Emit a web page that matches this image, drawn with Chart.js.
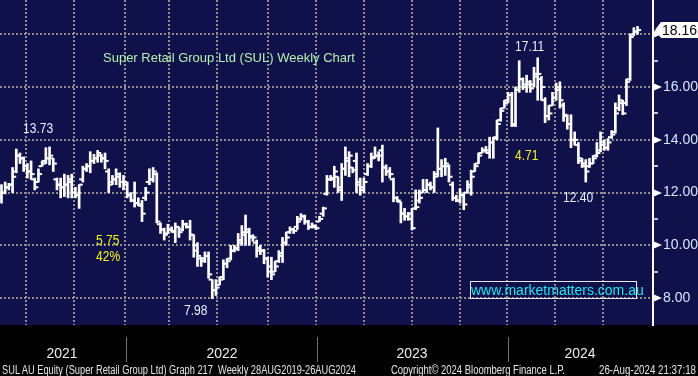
<!DOCTYPE html>
<html>
<head>
<meta charset="utf-8">
<script src="https://cdn.jsdelivr.net/npm/chart.js@4.4.0/dist/chart.umd.min.js"></script>
<style>
  html, body { margin: 0; padding: 0; background: #000; }
  #wrap { position: relative; width: 698px; height: 376px; overflow: hidden; }
  #wrap canvas { position: absolute; left: 0; top: 0; }
  .lbl { position: absolute; white-space: nowrap; font-family: "Liberation Sans", Arial, sans-serif; line-height: 1; transform-origin: 0 0; }
  .num { color: #e2efff; font-size: 14px; transform: scaleX(0.86); }
  .yel { color: #f2f21e; font-size: 14px; transform: scaleX(0.86); }
  .title { color: #b2f2ae; font-size: 13px; }
  .foot { color: #e6e6e6; font-size: 12px; top: 364px; }
  #mm { position: absolute; left: 470px; top: 281px; width: 165px; height: 16px; border: 1px solid #e8e8e8;
        color: #1ee6f2; font-family: "Liberation Sans", Arial, sans-serif; font-size: 14px; line-height: 16px; text-align: center; }
</style>
</head>
<body>
<div id="wrap">
  <canvas id="sul_chart" width="698" height="376"></canvas>
  <div class="lbl title" style="left:103px; top:51px;">Super Retail Group Ltd (SUL) Weekly Chart</div>
  <div class="lbl num" style="left:23px; top:121px;">13.73</div>
  <div class="lbl yel" style="left:96px; top:233px;">5.75</div>
  <div class="lbl yel" style="left:96px; top:249px;">42%</div>
  <div class="lbl num" style="left:184px; top:303px;">7.98</div>
  <div class="lbl num" style="left:515px; top:39px;">17.11</div>
  <div class="lbl yel" style="left:515px; top:148px;">4.71</div>
  <div class="lbl num" style="left:563px; top:190px;">12.40</div>
  <div id="mm">www.marketmatters.com.au</div>
  <div class="lbl foot" data-w="354" style="left:2px;">SUL AU Equity (Super Retail Group Ltd) Graph 217&nbsp; Weekly 28AUG2019-26AUG2024</div>
  <div class="lbl foot" data-w="174" style="left:391px;">Copyright© 2024 Bloomberg Finance L.P.</div>
  <div class="lbl foot" data-w="97" style="left:599px;">26-Aug-2024 21:37:18</div>
</div>
<script>
// weekly OHLC, one bar per week, oldest first
var opens = [11.8,12.0,12.2,12.3,12.8,13.4,13.3,13.0,12.8,12.5,12.4,13.0,13.2,13.3,13.3,12.5,12.3,12.2,12.3,12.4,
  12.0,11.9,12.5,12.9,13.0,13.2,13.3,13.4,13.3,12.8,12.4,12.5,12.6,12.4,12.3,11.9,11.7,11.6,11.5,11.8,
  12.4,12.5,12.7,10.8,10.6,10.45,10.6,10.5,10.7,10.6,10.8,10.7,10.4,10.0,9.5,9.4,9.6,8.7,8.3,8.5,
  8.8,9.3,9.5,9.8,9.9,10.1,10.4,10.5,10.35,10.1,9.9,9.8,9.5,9.2,9.0,9.4,9.6,10.1,10.5,10.6,
  10.7,11.0,11.1,10.9,10.7,10.7,10.9,11.2,11.95,12.5,12.5,12.6,12.2,12.9,13.2,12.95,13.2,12.4,12.1,12.7,
  13.0,13.35,13.4,13.6,12.95,12.8,12.5,11.8,11.65,11.2,11.1,11.2,11.4,11.7,12.0,12.1,12.3,12.2,12.7,12.9,
  13.0,13.0,12.3,11.8,11.7,11.9,12.0,12.2,12.8,13.1,13.5,13.6,13.5,13.9,14.1,14.75,15.2,15.5,15.7,14.6,
  15.9,16.3,16.0,16.1,16.1,16.5,16.3,15.5,14.9,15.3,15.6,16.0,15.3,14.9,14.6,14.0,13.8,13.2,13.0,13.0,
  13.1,13.4,13.6,13.8,13.7,14.1,14.3,15.2,15.4,15.4,16.3,18.0,18.1];
var highs = [12.3,12.4,12.35,12.95,13.65,13.5,13.35,13.1,13.2,12.55,12.9,13.2,13.7,13.73,13.3,12.55,12.55,12.7,12.65,12.7,
  12.2,12.3,13.0,13.1,13.55,13.45,13.6,13.45,13.5,12.9,12.65,12.9,12.75,12.65,12.4,12.0,12.4,11.8,11.7,12.2,
  12.9,12.95,12.75,10.85,10.65,10.8,10.7,10.85,10.7,10.95,10.85,10.95,10.4,10.1,9.55,9.75,9.75,8.7,8.7,8.8,
  9.45,9.5,10.0,10.0,10.45,10.75,11.15,10.65,10.4,10.2,10.0,9.85,9.55,9.55,9.4,9.8,10.3,10.5,10.7,10.65,
  11.1,11.2,11.15,10.95,10.85,10.75,11.1,11.45,12.65,12.65,13.0,12.6,13.1,13.73,13.55,12.95,13.5,12.55,12.55,13.1,
  13.5,13.73,13.55,13.8,13.05,12.95,12.55,11.85,11.65,11.4,11.25,11.4,12.1,12.1,12.5,12.5,12.4,12.8,14.45,13.25,
  13.3,13.05,12.4,11.9,12.15,12.0,12.45,12.85,13.1,13.5,13.7,13.75,14.1,14.1,14.75,15.2,15.5,15.8,15.8,16.0,
  17.0,16.35,16.45,16.25,16.75,17.11,16.4,15.6,15.3,15.8,16.15,16.2,15.4,14.95,14.95,14.3,13.9,13.3,13.25,13.3,
  13.4,13.9,14.3,14.0,14.05,14.35,15.4,15.7,15.5,16.3,18.0,18.25,18.3];
var lows = [11.6,11.95,12.1,12.0,12.75,13.1,12.8,12.55,12.5,12.1,12.4,13.0,13.1,13.05,12.8,12.1,11.8,11.85,11.8,11.8,
  11.8,11.4,12.4,12.8,12.75,13.1,13.15,13.15,12.9,12.0,12.3,12.3,12.2,12.1,11.8,11.65,11.45,11.5,10.9,11.7,
  12.3,12.4,10.85,10.45,10.2,10.45,10.5,10.1,10.3,10.55,10.65,10.2,9.55,9.2,9.2,9.35,8.75,7.98,8.1,8.5,
  8.7,9.15,9.45,9.75,9.8,10.0,10.0,10.0,10.15,9.55,9.65,9.3,8.8,8.7,9.0,9.35,9.35,10.0,10.45,10.45,
  10.6,10.95,10.8,10.6,10.65,10.6,10.9,11.1,11.9,12.45,12.2,12.0,11.7,12.65,12.6,12.75,12.0,11.9,12.0,12.65,
  12.95,13.3,13.2,12.4,12.65,12.55,11.65,11.65,10.85,10.95,10.95,10.58,11.35,11.6,12.0,12.0,12.1,12.0,12.6,12.6,
  12.65,12.4,11.7,11.65,11.6,11.35,11.98,11.9,12.8,13.1,13.5,13.5,13.3,13.3,14.0,14.7,15.2,15.4,14.5,14.5,
  15.8,15.9,15.8,15.8,16.0,15.5,15.5,14.65,14.75,15.3,15.5,15.2,14.7,14.4,13.7,13.8,13.1,12.95,12.4,12.95,
  13.1,13.35,13.55,13.6,13.6,14.05,14.25,15.1,14.95,15.3,16.25,17.95,18.0];
var closes = [12.0,12.2,12.3,12.6,13.4,13.3,13.0,12.8,12.7,12.2,12.7,13.1,13.3,13.4,13.1,12.3,12.2,12.3,12.5,12.0,
  11.9,12.3,12.9,13.0,13.2,13.3,13.5,13.3,13.2,12.3,12.5,12.7,12.4,12.4,11.9,11.7,11.6,11.55,11.2,12.0,
  12.5,12.8,10.9,10.6,10.4,10.6,10.55,10.7,10.5,10.8,10.7,10.4,9.8,9.6,9.5,9.6,8.9,8.3,8.4,8.7,
  9.3,9.4,9.8,9.85,10.2,10.5,10.6,10.3,10.3,9.8,9.8,9.5,9.0,8.9,9.2,9.7,10.1,10.3,10.6,10.55,
  10.9,11.1,10.9,10.7,10.75,10.65,11.0,11.4,12.5,12.55,12.8,12.1,12.9,13.3,13.4,12.85,12.3,12.2,12.4,13.0,
  13.3,13.4,13.4,12.95,12.8,12.7,11.8,11.7,11.2,11.1,11.0,10.65,11.45,11.8,12.1,12.3,12.2,12.6,12.9,13.0,
  13.1,12.6,11.8,11.7,11.9,11.55,12.3,12.6,13.0,13.4,13.6,13.6,13.9,14.05,14.6,15.1,15.4,15.7,14.55,15.9,
  16.3,16.1,16.2,15.95,16.4,16.5,16.0,14.9,15.0,15.6,15.9,15.5,14.95,14.6,14.0,14.0,13.3,13.1,12.8,13.1,
  13.3,13.5,13.9,13.7,13.9,14.2,15.0,15.5,15.0,16.2,17.9,18.1,18.16];

// axis positions, in weeks from the first bar
var quarterTicks = [6.63, 19.61, 33.4, 45.3, 58.28, 72.07, 85.05, 98.03, 111.01, 123.99, 136.7, 149.68, 162.66];
var yearSeps = [33.67, 85.19, 136.84];
var yearCenters = [16.37, 59.63, 111.01, 156.44];
var yearLabels = ['2021', '2022', '2023', '2024'];
var priceTicks = [8, 9, 10, 11, 12, 13, 14, 15, 16, 17, 18];

var NAVY = '#10104a';
var GRID = '#8e8e8e';
var FONT = '"Liberation Sans", Arial, sans-serif';

// squeeze footer strings to the widths they take in the original
document.querySelectorAll('.foot').forEach(function (el) {
  var w = el.getBoundingClientRect().width;
  el.style.transform = 'scaleX(' + (Number(el.dataset.w) / w) + ')';
});

var bgPlugin = {
  id: 'bg',
  beforeDraw: function (chart) {
    var ctx = chart.ctx, area = chart.chartArea;
    ctx.save();
    ctx.fillStyle = '#000';
    ctx.fillRect(0, 0, chart.width, chart.height);
    ctx.fillStyle = NAVY;
    ctx.fillRect(0, 0, chart.width, area.bottom);
    ctx.restore();
  }
};

var decorPlugin = {
  id: 'decor',
  afterDraw: function (chart) {
    var ctx = chart.ctx, area = chart.chartArea, ys = chart.scales.y, xs = chart.scales.x;
    ctx.save();
    // arrow heads on the price axis
    ctx.fillStyle = '#fff';
    priceTicks.forEach(function (v) {
      if (v % 2 !== 0) return;
      var py = Math.round(ys.getPixelForValue(v));
      ctx.beginPath();
      ctx.moveTo(area.right + 1, py - 3.5);
      ctx.lineTo(area.right + 9, py);
      ctx.lineTo(area.right + 1, py + 3.5);
      ctx.closePath();
      ctx.fill();
    });
    // year separators
    ctx.strokeStyle = '#707070';
    ctx.lineWidth = 1;
    yearSeps.forEach(function (v) {
      var px = Math.round(xs.getPixelForValue(v)) + 0.5;
      ctx.beginPath();
      ctx.moveTo(px, area.bottom + 12);
      ctx.lineTo(px, area.bottom + 37);
      ctx.stroke();
    });
    // last price tag
    var last = closes[closes.length - 1];
    var ty = Math.round(ys.getPixelForValue(last));
    var l = area.right + 2;
    ctx.fillStyle = '#fff';
    ctx.beginPath();
    ctx.moveTo(l, ty);
    ctx.lineTo(l + 6, ty - 8);
    ctx.lineTo(chart.width, ty - 8);
    ctx.lineTo(chart.width, ty + 8);
    ctx.lineTo(l + 6, ty + 8);
    ctx.closePath();
    ctx.fill();
    ctx.fillStyle = '#000';
    ctx.font = '14px ' + FONT;
    ctx.textBaseline = 'middle';
    ctx.fillText(last.toFixed(2), l + 7, ty + 1);
    ctx.restore();
  }
};

function noPad(s) {
  s.paddingTop = 0;
  s.paddingBottom = 0;
  s.paddingLeft = 0;
  s.paddingRight = 0;
}

function getChartJs() {
  var ranges = [], openTicks = [], closeTicks = [];
  for (var i = 0; i < closes.length; i++) {
    ranges.push({ x: i, y: [lows[i], highs[i]] });
    openTicks.push({ x: i - 0.5, y: opens[i] });
    closeTicks.push({ x: i + 0.5, y: closes[i] });
  }

  var tickStyle = {
    type: 'scatter',
    pointStyle: 'line',
    pointRadius: 1.8,
    pointBorderWidth: 2,
    pointBorderColor: '#fff',
    pointBackgroundColor: '#fff'
  };

  return {
    type: 'bar',
    data: {
      datasets: [
        { label: 'range', data: ranges, backgroundColor: '#fff', borderWidth: 0, barThickness: 2 },
        Object.assign({ label: 'open', data: openTicks }, tickStyle),
        Object.assign({ label: 'close', data: closeTicks }, tickStyle)
      ]
    },
    options: {
      responsive: false,
      animation: false,
      devicePixelRatio: 1,
      events: [],
      layout: { padding: 0, autoPadding: false },
      plugins: { legend: { display: false }, tooltip: { enabled: false } },
      scales: {
        x: {
          type: 'linear',
          position: 'bottom',
          min: -0.4,
          max: 176.18,
          offset: false,
          afterBuildTicks: function (s) { s.ticks = quarterTicks.map(function (v) { return { value: v }; }); },
          afterFit: function (s) { s.height = 0; noPad(s); },
          ticks: { display: false },
          grid: { color: GRID, lineWidth: 2, drawTicks: false, offset: false },
          border: { display: false, dash: [2, 2] }
        },
        x2: {
          type: 'linear',
          position: 'bottom',
          min: -0.4,
          max: 176.18,
          offset: false,
          afterBuildTicks: function (s) { s.ticks = yearCenters.map(function (v) { return { value: v }; }); },
          afterFit: function (s) { s.height = 51; noPad(s); },
          ticks: {
            color: '#ececec',
            font: { family: FONT, size: 14 },
            padding: 13,
            maxRotation: 0,
            autoSkip: false,
            callback: function (v) { return yearLabels[yearCenters.indexOf(v)]; }
          },
          grid: { display: false },
          border: { display: false }
        },
        y: {
          position: 'right',
          min: 6.98,
          max: 19.3,
          afterBuildTicks: function (s) { s.ticks = priceTicks.map(function (v) { return { value: v }; }); },
          afterFit: function (s) { s.width = 45; noPad(s); },
          ticks: {
            color: '#d4e6ff',
            font: { family: FONT, size: 14 },
            padding: 5,
            callback: function (v) { return v % 2 === 0 ? v.toFixed(2) : ''; }
          },
          grid: {
            color: function (c) { return c.tick && c.tick.value % 2 === 0 ? GRID : 'rgba(0,0,0,0)'; },
            lineWidth: 2,
            tickColor: function (c) { return c.tick && c.tick.value % 2 !== 0 ? '#fff' : 'rgba(0,0,0,0)'; },
            tickLength: 5,
            tickWidth: 1.5,
            tickBorderDash: []
          },
          border: { display: true, color: '#fff', width: 2, dash: [2, 2] }
        }
      }
    },
    plugins: [bgPlugin, decorPlugin]
  };
}

new Chart(document.getElementById('sul_chart').getContext('2d'), getChartJs());
</script>
</body>
</html>
